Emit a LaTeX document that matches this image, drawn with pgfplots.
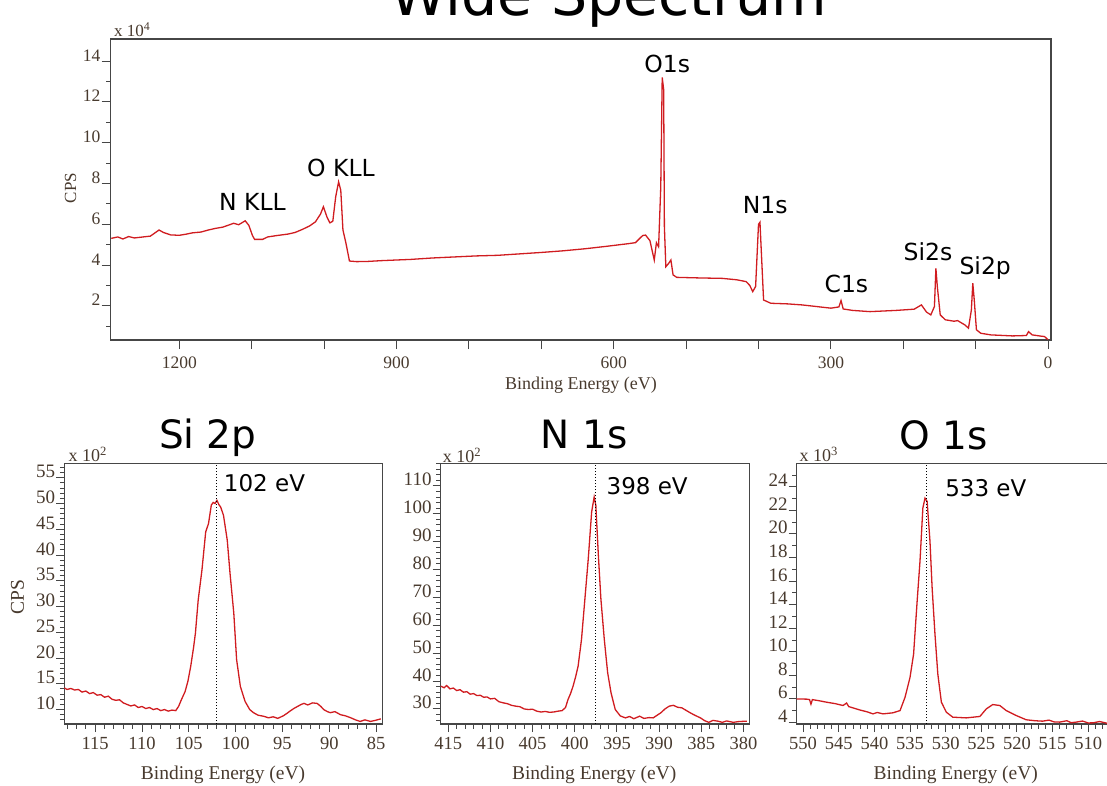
\documentclass[border=0pt]{standalone}
\usepackage{fontspec}
\setmainfont{Liberation Serif}
\newfontfamily\verd{DejaVu Sans}
\usepackage{pgfplots}
\pgfplotsset{compat=1.18}
\definecolor{axisgray}{RGB}{70,70,70}
\definecolor{tickcol}{RGB}{72,58,46}
\definecolor{specred}{RGB}{208,28,32}

\pgfplotsset{
  xps/.style={
    scale only axis, x dir=reverse,
    axis line style={axisgray, line width=1.1pt},
    tick style={axisgray, line width=1pt},
    tick align=outside,
    xtick pos=left, ytick pos=left,
    major tick length=8pt, minor tick length=4.5pt,
    /pgf/number format/assume math mode=true,
    /pgf/number format/set thousands separator={},
    scaled ticks=false,
    xticklabel style={font=\fontsize{18.5}{20}\selectfont, text=tickcol, anchor=north, inner sep=0pt, yshift=-5pt},
    yticklabel style={font=\fontsize{19}{20}\selectfont, text=tickcol, anchor=base east, inner sep=0pt, xshift=-1pt},
  },
  specline/.style={draw=specred, line width=1.3pt, mark=none},
  vline/.style={draw=black, dotted, line width=1pt},
}

\begin{document}
\begin{tikzpicture}[x=1pt,y=1pt]
\node[anchor=base, font=\verd\fontsize{57}{62}\selectfont] at (609,769.5) {Wide Spectrum};

% ---------------- wide spectrum ----------------
\begin{axis}[xps, at={(110.7pt,445pt)}, anchor=south west,
  width=940.3pt, height=301pt,
  xmin=-4, xmax=1294.8, ymin=0.33, ymax=15.08,
  xtick={0,100,...,1200}, xticklabels={0,,,300,,,600,,,900,,,1200},
  ytick={2,4,...,14}, minor ytick={1,3,...,13},
  major tick length=9pt, minor tick length=4.5pt,
  xticklabel style={font=\fontsize{17.5}{19}\selectfont, yshift=-3pt},
  yticklabel style={font=\fontsize{17.5}{19}\selectfont},
]
\addplot[specline] coordinates {
(1294,5.31) (1285,5.38) (1278,5.28) (1270,5.40) (1262,5.33) (1255,5.36) (1240,5.42)
(1232,5.62) (1228,5.72) (1222,5.60) (1212,5.48) (1200,5.46) (1190,5.52) (1182,5.58)
(1170,5.62) (1160,5.72) (1150,5.80) (1140,5.86) (1132,5.96) (1125,6.05) (1118,5.98)
(1109,6.17) (1104,5.95) (1099,5.45) (1096,5.26) (1085,5.26) (1078,5.38) (1065,5.45)
(1050,5.52) (1040,5.60) (1030,5.75) (1020,5.92) (1012,6.12) (1005,6.50) (1001,6.86)
(996,6.35) (992,6.07) (988,6.15) (984,7.35) (980,8.08) (977,7.67) (974,5.72) (970,5.10)
(965,4.20) (955,4.17) (940,4.18) (920,4.22) (900,4.25) (880,4.28) (850,4.35) (820,4.40)
(790,4.45) (760,4.48) (730,4.55) (700,4.62) (670,4.70) (640,4.80) (610,4.92) (580,5.05)
(570,5.10) (560,5.45) (556,5.47) (550,5.20) (544,4.25) (541,5.10) (538,4.90) (535,7.84)
(533,13.2) (531,12.6) (530,5.88) (528,3.92) (524,4.09) (521,4.25) (518,3.52) (513,3.40)
(480,3.37) (450,3.35) (430,3.28) (417,3.19) (412,3.00) (408,2.70) (404,2.95) (400,6.00)
(398,6.10) (396,4.58) (393,2.29) (383,2.13) (360,2.10) (340,2.05) (300,1.89) (289,1.95)
(286,2.26) (283,1.85) (270,1.78) (246,1.72) (210,1.78) (185,1.84) (175,2.05) (168,1.70)
(162,1.56) (157,1.97) (155,3.84) (153,2.95) (149,1.56) (142,1.32) (130,1.25) (125,1.28)
(115,1.07) (110,0.91) (106,1.80) (104,3.11) (102,2.29) (99,0.83) (93,0.66) (79,0.58)
(49,0.53) (30,0.55) (27,0.74) (22,0.58) (10,0.52) (5,0.50) (0,0.34)
};
\end{axis}
\node[anchor=base west, font=\fontsize{17}{19}\selectfont, text=tickcol] at (110.7,748.3) {x 10\textsuperscript{4}};
\node[rotate=90, font=\fontsize{17}{19}\selectfont, text=tickcol] at (70.7,597) {CPS};
\node[anchor=base, font=\fontsize{18}{20}\selectfont, text=tickcol] at (581,395) {Binding Energy (eV)};
\begin{scope}[every node/.style={anchor=base, font=\verd\fontsize{23.5}{26}\selectfont}]
\node at (252.5,574.3) {N KLL};
\node at (341,608.3) {O KLL};
\node at (667.3,712.3) {O1s};
\node at (765.2,571.7) {N1s};
\node at (846.4,492.3) {C1s};
\node at (928,524.3) {Si2s};
\node at (985.2,510) {Si2p};
\end{scope}

% ---------------- Si 2p ----------------
\begin{axis}[xps, at={(64.3pt,61pt)}, anchor=south west,
  width=318.4pt, height=260.7pt,
  xmin=84.3, xmax=118.3, ymin=7.2, ymax=57.8,
  xtick={85,90,...,115}, minor xtick={84,...,118},
  ytick={10,15,...,55}, minor ytick={8,...,57},
]
\addplot[specline] coordinates {
(118.3,14.2) (118.0,13.9) (117.6,14.1) (117.2,13.8) (116.8,13.9) (116.4,13.4) (116.0,13.6)
(115.6,13.1) (115.2,13.3) (114.8,12.8) (114.4,12.9) (114.0,12.4) (113.6,12.6) (113.2,12.0)
(112.8,11.8) (112.4,11.9) (112.0,11.3) (111.6,11.0) (111.2,10.7) (110.8,10.9) (110.4,10.4)
(110.0,10.6) (109.6,10.2) (109.2,10.4) (108.8,10.0) (108.4,10.2) (108.0,9.8) (107.6,10.0)
(107.2,9.7) (106.8,9.9) (106.4,9.8) (106.1,10.6) (105.8,11.9) (105.4,13.5) (105.1,15.5)
(104.8,18.4) (104.5,22.0) (104.3,24.8) (104.0,31.3) (103.6,37.1) (103.2,44.5) (102.9,46.1)
(102.6,49.7) (102.4,50.2) (102.2,50.0) (102.0,50.6) (101.8,49.8) (101.6,49.3) (101.3,47.7)
(100.9,42.9) (100.6,36.4)
(100.2,28.7) (99.9,19.7) (99.5,14.5) (99.0,11.6) (98.5,10.0) (98.1,9.4) (97.6,8.9)
(97.0,8.7) (96.5,8.4) (96.0,8.6) (95.5,8.3) (94.9,8.8) (94.5,9.3) (94.2,9.7) (93.8,10.2)
(93.4,10.6) (93.0,11.0) (92.7,11.2) (92.3,10.9) (91.8,11.3) (91.3,11.2) (90.9,10.6)
(90.6,10.0) (90.2,9.6) (89.9,9.4) (89.4,9.6) (88.8,9.0) (88.3,8.8) (87.7,8.4) (87.2,8.0)
(86.7,7.7) (86.2,8.0) (85.6,7.7) (85.1,7.9) (84.5,8.2)
};
\addplot[vline] coordinates {(102,7.2) (102,57.8)};
\end{axis}

% ---------------- N 1s ----------------
\begin{axis}[xps, at={(440.7pt,61pt)}, anchor=south west,
  width=308.6pt, height=260.7pt,
  xmin=379.3, xmax=415.9, ymin=24.6, ymax=118.1,
  xtick={380,385,...,415}, minor xtick={380,...,415},
  ytick={30,40,...,110}, minor ytick={26,28,...,118},
]
\addplot[specline] coordinates {
(415.9,38.2) (415.5,37.6) (415.2,38.4) (414.8,37.2) (414.4,37.5) (414.0,36.6) (413.6,36.9)
(413.2,36.0) (412.8,36.2) (412.4,35.3) (412.0,35.5) (411.6,34.8) (411.2,34.9) (410.8,34.2)
(410.4,34.3) (410.0,33.6) (409.5,33.8) (409.0,32.6) (408.5,32.2) (408.0,31.9) (407.5,31.3)
(407.0,31.0) (406.5,30.8) (406.0,30.0) (405.5,29.8) (405.0,29.9) (404.5,29.2) (404.0,28.9)
(403.5,29.1) (403.0,28.8) (402.5,28.9) (402.0,29.2) (401.5,29.4) (401.1,30.5) (400.8,33.4)
(400.5,35.5) (400.2,38.2) (399.9,41.5) (399.6,45.4) (399.2,55.0) (398.8,69.4) (398.4,83.8)
(398.0,100.6) (397.7,106.0) (397.5,103.0) (397.2,85.0) (396.9,69.4) (396.5,55.0) (396.1,43.0)
(395.7,35.8) (395.2,29.8) (394.6,27.5) (394.0,26.8) (393.5,27.3) (393.0,26.5) (392.3,27.4)
(391.8,26.6) (391.2,26.9) (390.7,26.8) (390.2,27.8) (389.8,28.6) (389.3,30.0) (388.8,31.0)
(388.3,31.3) (387.8,30.6) (387.3,30.4) (386.8,29.5) (386.3,28.6) (385.8,27.8) (385.1,26.8)
(384.6,25.8) (384.1,25.2) (383.6,25.9) (383.0,25.6) (382.5,25.2) (382.0,25.7) (381.2,25.2)
(380.5,25.5) (379.6,25.6)
};
\addplot[vline] coordinates {(397.6,24.6) (397.6,118.1)};
\end{axis}

% ---------------- O 1s ----------------
\begin{axis}[xps, at={(796.7pt,61pt)}, anchor=south west,
  width=320pt, height=260.7pt,
  xmin=506, xmax=550.9, ymin=3.87, ymax=26.0,
  xtick={510,515,...,550}, minor xtick={506,...,550},
  ytick={4,6,...,24}, minor ytick={5,7,...,25},
]
\addplot[specline] coordinates {
(550.9,6.00) (549.5,5.98) (549.1,5.94) (548.9,5.55) (548.7,5.94) (547.8,5.85) (546.7,5.72)
(545.5,5.60) (544.4,5.44) (543.9,5.65) (543.6,5.35) (542.1,5.07) (541.0,4.90) (540.2,4.73)
(539.6,4.85) (538.8,4.73) (537.4,4.82) (536.4,5.01) (535.7,6.14) (535.0,7.83) (534.5,9.80)
(534.0,14.31) (533.6,17.69) (533.2,22.2) (532.9,23.04) (532.6,22.76) (532.2,19.38)
(531.9,15.44) (531.5,11.49) (531.1,8.11) (530.6,5.72) (529.9,4.87) (529.0,4.45)
(527.1,4.39) (525.2,4.51) (524.3,5.15) (523.4,5.52) (522.4,5.44) (521.5,5.01) (520.1,4.59)
(518.7,4.23) (517.5,4.15) (516.4,4.11) (515.5,4.20) (514.8,4.05) (514.0,4.03) (513.0,4.15)
(512.4,3.98) (511.7,4.03) (510.8,4.12) (510.0,3.96) (509.3,3.97) (508.4,4.08) (507.4,3.94)
(506,3.96)
};
\addplot[vline] coordinates {(532.7,3.87) (532.7,26.0)};
\end{axis}

% bottom panel texts
\begin{scope}[every node/.style={anchor=base, font=\verd\fontsize{39}{44}\selectfont}]
\node at (207.8,336.7) {Si 2p};
\node at (584.2,336.7) {N 1s};
\node at (943.3,336.0) {O 1s};
\end{scope}
\begin{scope}[every node/.style={anchor=base, font=\verd\fontsize{23}{26}\selectfont}]
\node at (264.5,293.3) {102 eV};
\node at (647.2,290.7) {398 eV};
\node at (985.8,288.3) {533 eV};
\end{scope}
\begin{scope}[every node/.style={anchor=base west, font=\fontsize{18}{20}\selectfont, text=tickcol}]
\node at (65,323.3) {x 10\textsuperscript{2}};
\node at (439.3,322.7) {x 10\textsuperscript{2}};
\node at (796,323.3) {x 10\textsuperscript{3}};
\end{scope}
\node[rotate=90, font=\fontsize{19.5}{21}\selectfont, text=tickcol] at (17.5,188.3) {CPS};
\begin{scope}[every node/.style={anchor=base, font=\fontsize{19.5}{21}\selectfont, text=tickcol}]
\node at (223,6) {Binding Energy (eV)};
\node at (594.2,6) {Binding Energy (eV)};
\node at (955.8,6) {Binding Energy (eV)};
\end{scope}

\pgfresetboundingbox
\useasboundingbox (0,0) rectangle (1107,785);
\end{tikzpicture}
\end{document}
